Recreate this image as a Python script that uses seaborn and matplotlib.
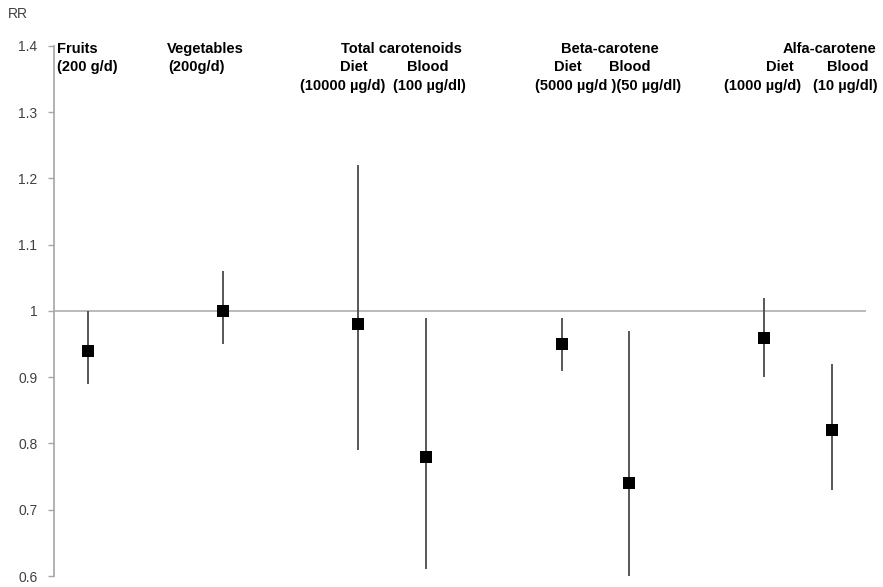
import matplotlib
matplotlib.use('Agg')
from matplotlib import pyplot as plt
from matplotlib.ticker import FuncFormatter, MultipleLocator
import seaborn as sns
import pandas as pd

# category slot (Excel-style category axis with 12 slots, some left empty)
slot = [0, 2, 4, 5, 7, 8, 10, 11]
names = ['Fruits', 'Vegetables', 'Total carotenoids diet', 'Total carotenoids blood',
         'Beta-carotene diet', 'Beta-carotene blood', 'Alfa-carotene diet', 'Alfa-carotene blood']
rr = [0.94, 1.00, 0.98, 0.78, 0.95, 0.74, 0.96, 0.82]
lo = [0.89, 0.95, 0.79, 0.61, 0.91, 0.60, 0.90, 0.73]
hi = [1.00, 1.06, 1.22, 0.99, 0.99, 0.97, 1.02, 0.92]

# header labels: text, x pixel, row, alignment
headers = [
    ('Fruits', 57, 0, 'left'), ('(200 g/d)', 57, 1, 'left'),
    ('Vegetables', 167, 0, 'left'), ('(200g/d)', 168, 1, 'left'),
    ('Total carotenoids', 401, 0, 'center'),
    ('Diet', 354, 1, 'center'), ('Blood', 428, 1, 'center'),
    ('(10000 µg/d)', 343, 2, 'center'), ('(100 µg/dl)', 429, 2, 'center'),
    ('Beta-carotene', 610, 0, 'center'),
    ('Diet', 568, 1, 'center'), ('Blood', 630, 1, 'center'),
    ('(5000 µg/d )(50 µg/dl)', 608, 2, 'center'),
    ('Alfa-carotene', 876, 0, 'right'),
    ('Diet', 780, 1, 'center'), ('Blood', 848, 1, 'center'),
    ('(1000 µg/d)', 763, 2, 'center'), ('(10 µg/dl)', 845, 2, 'center'),
]
row_y = [49, 67, 86]

df = pd.DataFrame({'slot': slot, 'name': names, 'rr': rr, 'lo': lo, 'hi': hi})

sns.set_style('white')
plt.rcParams['font.family'] = ['Liberation Sans', 'DejaVu Sans']

W, H = 883, 587
fig = plt.figure(figsize=(W / 100, H / 100), dpi=100)
ax = fig.add_axes([54 / W, 11 / H, (866 - 54) / W, 530 / H])

ax.axhline(1, color='#b4b4b4', lw=1.3, zorder=1)
ax.vlines(df['slot'], df['lo'], df['hi'], color='#4a4a4a', lw=1.3, zorder=2)
sns.scatterplot(data=df, x='slot', y='rr', marker='s', s=75, color='black',
                edgecolor='black', linewidth=0, zorder=3, ax=ax)

ax.set_xlim(-0.5, 11.5)
ax.set_ylim(0.6, 1.4)
ax.yaxis.set_major_locator(MultipleLocator(0.1))
ax.yaxis.set_major_formatter(FuncFormatter(lambda v, p: f'{round(v, 1):g}'))
ax.set_xticks([])
ax.set_xlabel('')
ax.set_ylabel('')
for s in ['top', 'right', 'bottom']:
    ax.spines[s].set_visible(False)
ax.spines['left'].set_color('#a6a6a6')
ax.spines['left'].set_linewidth(1.2)
ax.tick_params(axis='y', left=True, length=4, width=1, color='#a6a6a6',
               pad=8, labelsize=10, labelcolor='#404040')
ax.patch.set_alpha(0)

fig.text(8 / W, 1 - 14 / H, 'RR', fontsize=10, color='#404040', va='center', ha='left')
for txt, x, row, ha in headers:
    fig.text(x / W, 1 - row_y[row] / H, txt, fontsize=10.5, fontweight='bold',
             ha=ha, va='center', color='black')

fig.savefig('out.png', dpi=100)
